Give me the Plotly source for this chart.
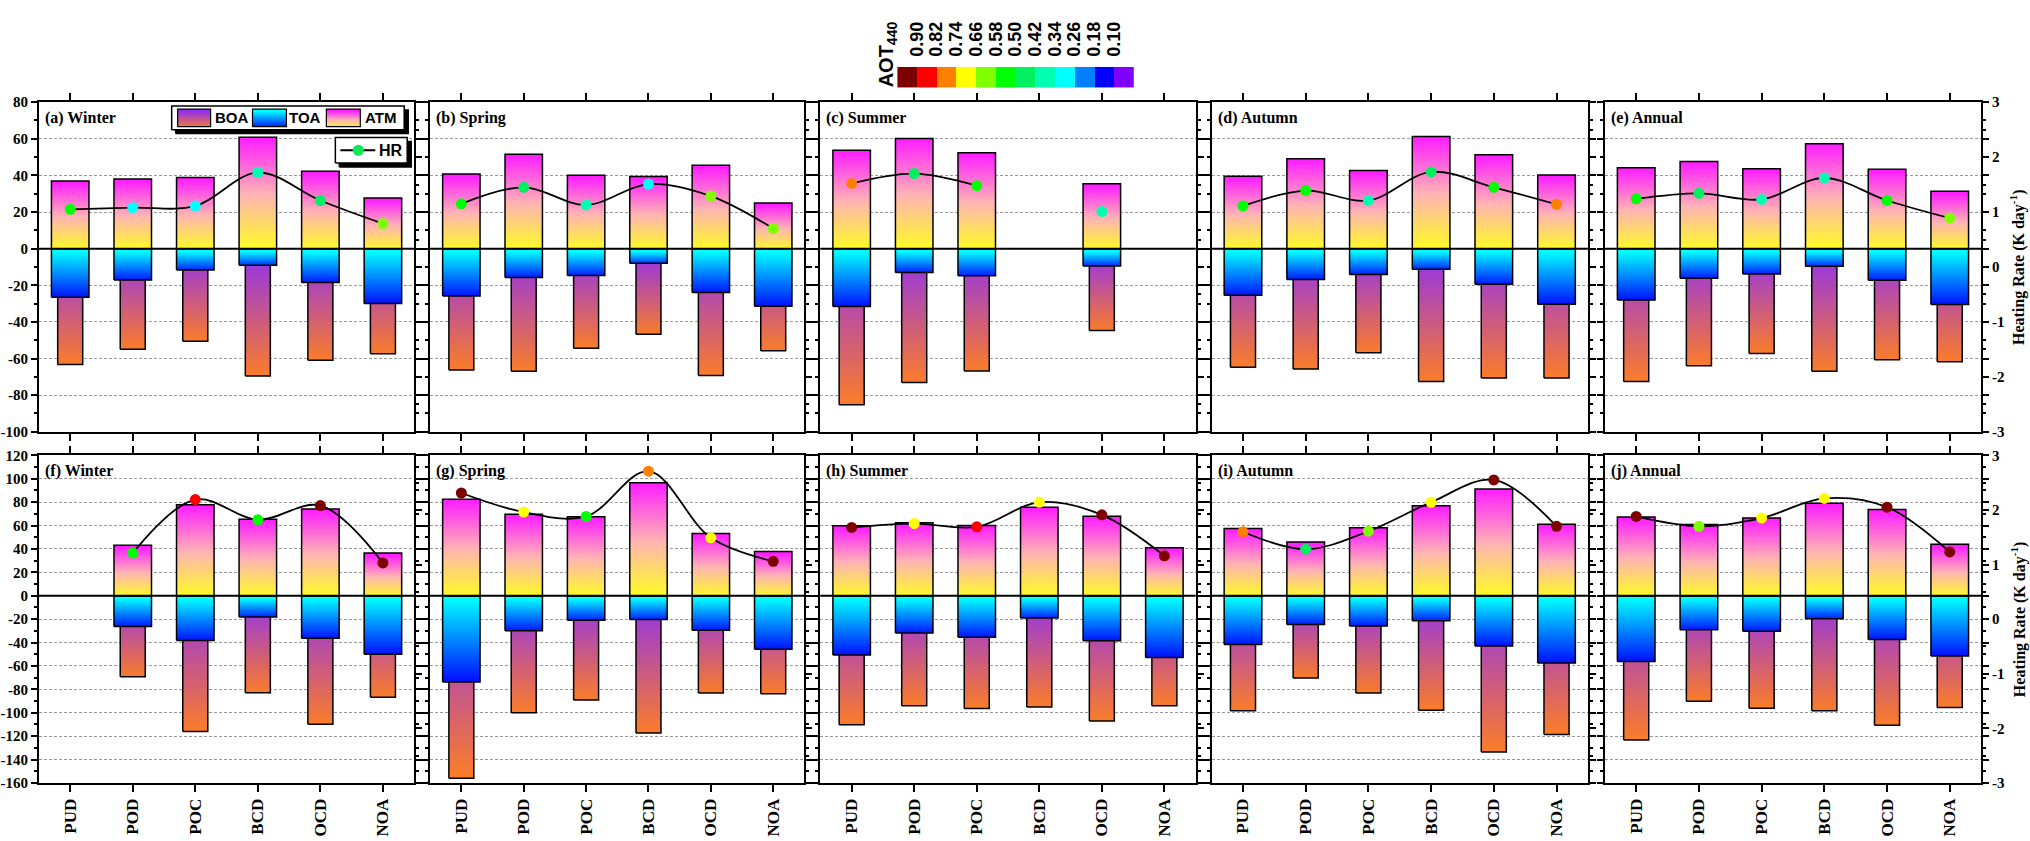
import plotly.graph_objects as go

FIG_W, FIG_H = 2030, 841

CATEGORIES = ["PUD", "POD", "POC", "BCD", "OCD", "NOA"]
PANEL_TITLES = ["(a) Winter", "(b) Spring", "(c) Summer", "(d) Autumn", "(e) Annual",
                "(f) Winter", "(g) Spring", "(h) Summer", "(i) Autumn", "(j) Annual"]

# Radiative forcing (W m-2): atmosphere, top and bottom of atmosphere,
# heating rate (K day-1) and AOT440 for each aerosol type.
ATM_A = [37.0, 38.0, 38.9, 60.8, 42.3, 27.7]
TOA_A = [-26.5, -17.1, -11.7, -9.1, -18.5, -29.9]
BOA_A = [-63.3, -54.9, -50.5, -69.5, -61.0, -57.4]
HR_A = [1.05, 1.08, 1.11, 1.72, 1.21, 0.79]
AOT_A = [0.54, 0.30, 0.30, 0.38, 0.46, 0.62]

ATM_B = [40.8, 51.5, 40.1, 39.4, 45.5, 25.0]
TOA_B = [-25.8, -15.7, -14.6, -8.0, -23.9, -31.4]
BOA_B = [-66.3, -67.0, -54.4, -46.7, -69.2, -55.8]
HR_B = [1.15, 1.45, 1.13, 1.51, 1.29, 0.70]
AOT_B = [0.54, 0.46, 0.38, 0.30, 0.62, 0.62]

ATM_C = [53.8, 60.2, 52.4, None, 35.5, None]
TOA_C = [-31.6, -13.0, -14.8, None, -9.4, None]
BOA_C = [-85.2, -73.1, -66.8, None, -44.7, None]
HR_C = [1.52, 1.70, 1.48, None, 1.01, None]
AOT_C = [0.78, 0.46, 0.54, None, 0.38, None]

ATM_D = [39.6, 49.1, 42.7, 61.3, 51.3, 40.2]
TOA_D = [-25.4, -16.8, -14.1, -11.3, -19.5, -30.4]
BOA_D = [-64.8, -65.7, -56.8, -72.5, -70.7, -70.7]
HR_D = [1.11, 1.39, 1.21, 1.73, 1.45, 1.14]
AOT_D = [0.54, 0.54, 0.38, 0.46, 0.54, 0.78]

ATM_E = [44.2, 47.6, 43.6, 57.3, 43.3, 31.3]
TOA_E = [-28.1, -16.2, -13.9, -9.6, -17.3, -30.5]
BOA_E = [-72.5, -63.9, -57.3, -67.0, -60.7, -61.8]
HR_E = [1.24, 1.34, 1.23, 1.62, 1.21, 0.89]
AOT_E = [0.54, 0.46, 0.38, 0.38, 0.54, 0.62]

ATM_F = [None, 43.2, 77.8, 65.3, 74.2, 36.5]
TOA_F = [None, -26.2, -38.2, -18.1, -36.3, -49.9]
BOA_F = [None, -69.2, -116.0, -82.8, -109.9, -86.7]
HR_F = [None, 1.21, 2.19, 1.82, 2.08, 1.03]
AOT_F = [None, 0.52, 0.86, 0.54, 0.94, 0.94]

ATM_G = [82.4, 69.7, 67.5, 96.6, 53.2, 37.8]
TOA_G = [-73.7, -30.0, -21.0, -20.4, -29.4, -45.7]
BOA_G = [-156.0, -100.0, -89.1, -117.4, -83.2, -83.8]
HR_G = [2.31, 1.96, 1.88, 2.71, 1.49, 1.06]
AOT_G = [0.94, 0.70, 0.54, 0.78, 0.70, 0.94]

ATM_H = [59.8, 62.3, 60.1, 75.7, 67.9, 41.1]
TOA_H = [-50.6, -31.8, -35.5, -19.0, -38.5, -52.8]
BOA_H = [-110.3, -94.1, -96.4, -95.0, -107.0, -94.1]
HR_H = [1.68, 1.75, 1.69, 2.14, 1.91, 1.16]
AOT_H = [0.94, 0.70, 0.86, 0.70, 0.94, 0.94]

ATM_I = [57.4, 45.9, 58.0, 76.8, 91.3, 61.1]
TOA_I = [-41.7, -24.6, -25.8, -21.3, -42.9, -57.4]
BOA_I = [-98.3, -70.3, -83.2, -97.8, -133.6, -118.5]
HR_I = [1.60, 1.28, 1.61, 2.14, 2.55, 1.70]
AOT_I = [0.78, 0.46, 0.62, 0.70, 0.94, 0.94]

ATM_J = [67.2, 60.8, 66.4, 79.0, 73.7, 44.0]
TOA_J = [-56.3, -29.1, -30.3, -19.6, -37.3, -51.5]
BOA_J = [-123.2, -90.2, -96.1, -98.3, -110.6, -95.5]
HR_J = [1.88, 1.70, 1.85, 2.21, 2.05, 1.23]
AOT_J = [0.94, 0.62, 0.70, 0.70, 0.94, 0.94]

PANELS = [
    (ATM_A, TOA_A, BOA_A, HR_A, AOT_A),
    (ATM_B, TOA_B, BOA_B, HR_B, AOT_B),
    (ATM_C, TOA_C, BOA_C, HR_C, AOT_C),
    (ATM_D, TOA_D, BOA_D, HR_D, AOT_D),
    (ATM_E, TOA_E, BOA_E, HR_E, AOT_E),
    (ATM_F, TOA_F, BOA_F, HR_F, AOT_F),
    (ATM_G, TOA_G, BOA_G, HR_G, AOT_G),
    (ATM_H, TOA_H, BOA_H, HR_H, AOT_H),
    (ATM_I, TOA_I, BOA_I, HR_I, AOT_I),
    (ATM_J, TOA_J, BOA_J, HR_J, AOT_J),
]

# AOT440 classes (boundaries, high to low) and their colours
AOT_TICKS = [0.90, 0.82, 0.74, 0.66, 0.58, 0.50, 0.42, 0.34, 0.26, 0.18, 0.10]
AOT_STEP = 0.08
AOT_PALETTE = ["#7c0000", "#ff0000", "#ff8000", "#ffff00", "#80ff00", "#00ff00",
               "#00f060", "#00ffb0", "#00ffff", "#0080ff", "#0000ff", "#8000ff"]

aot_max = AOT_TICKS[0] + AOT_STEP
aot_min = AOT_TICKS[-1] - AOT_STEP
low_to_high = AOT_PALETTE[::-1]
n_cls = len(low_to_high)
AOT_SCALE = []
for i, col in enumerate(low_to_high):
    AOT_SCALE += [[i / n_cls, col], [(i + 1) / n_cls, col]]

# vertical gradients, bottom -> top
ATM_GRAD = [[0, "#ffff1e"], [0.5, "#ffb4b4"], [1, "#ff1eff"]]
TOA_GRAD = [[0, "#0000ff"], [1, "#00ffff"]]
BOA_GRAD = [[0, "#ff8020"], [1, "#9030f0"]]

# panel geometry (pixels)
COLS = [(35, 411), (427, 802), (818, 1194), (1210, 1587), (1604, 1981)]
ROWS = [(96, 432), (456, 790)]
LEFT_RANGE = [(-100, 80), (-160, 120)]
HR_RANGE = (-3, 3)
WIDE, NARROW = 0.6, 0.4

SERIF = "Liberation Serif"
SANS = "Liberation Sans"


def ax_id(letter, k):
    return letter if k == 1 else f"{letter}{k}"


def ax_key(letter, k):
    return f"{letter}axis" if k == 1 else f"{letter}axis{k}"


def bar(i, value, width, grad, xa, ya):
    lo, hi = min(0, value), max(0, value)
    left, right = i - width / 2, i + width / 2
    return go.Scatter(
        x=[left, right, right, left, left], y=[lo, lo, hi, hi, lo],
        mode="lines", fill="toself",
        fillgradient=dict(type="vertical", colorscale=grad, start=lo, stop=hi),
        line=dict(color="black", width=1.5),
        xaxis=xa, yaxis=ya, hoverinfo="skip", showlegend=False)


def fmt(v):
    return str(int(v)) if float(v).is_integer() else str(v)


fig = go.Figure()
layout = {}
shapes = []
annotations = []

for k, (atm, toa, boa, hr, aot) in enumerate(PANELS, start=1):
    r, c = divmod(k - 1, 5)
    px0, px1 = COLS[c]
    py0, py1 = ROWS[r]
    xa, ya, ha = ax_id("x", k), ax_id("y", k), ax_id("y", k + 10)
    lo, hi = LEFT_RANGE[r]
    left_ticks = list(range(lo, hi + 1, 20))
    hr_ticks = list(range(HR_RANGE[0], HR_RANGE[1] + 1))

    xaxis = dict(
        domain=[px0 / FIG_W, px1 / FIG_W], anchor=ya, range=[-0.5, 5.5],
        tickmode="array", tickvals=list(range(len(CATEGORIES))),
        ticks="outside", ticklen=7, tickwidth=2, tickcolor="black",
        showline=True, linewidth=2, linecolor="black", mirror="ticks",
        showgrid=False, zeroline=False)
    if r == 1:
        xaxis.update(ticktext=CATEGORIES, tickangle=-90,
                     tickfont=dict(family=SERIF, size=17, color="black", weight="bold"))
    else:
        xaxis.update(showticklabels=False)
    layout[ax_key("x", k)] = xaxis

    yaxis = dict(
        domain=[1 - py1 / FIG_H, 1 - py0 / FIG_H], anchor=xa, range=[lo, hi],
        tickmode="array", tickvals=left_ticks,
        ticks="outside", ticklen=6, tickwidth=2, tickcolor="black",
        minor=dict(tickmode="linear", tick0=0, dtick=10, ticks="outside",
                   ticklen=3, tickwidth=1.5, tickcolor="black", showgrid=False),
        showgrid=True, gridcolor="#9a9a9a", gridwidth=1, griddash="3px,2px",
        showline=True, linewidth=2, linecolor="black", mirror="ticks",
        zeroline=False)
    if c == 0:
        yaxis.update(ticktext=[fmt(v) for v in left_ticks],
                     tickfont=dict(family=SERIF, size=15, color="black", weight="bold"))
    else:
        yaxis.update(showticklabels=False)
    layout[ax_key("y", k)] = yaxis

    hraxis = dict(
        overlaying=ya, anchor=xa, side="right", range=list(HR_RANGE),
        tickmode="array", tickvals=hr_ticks,
        ticks="outside", ticklen=6, tickwidth=2, tickcolor="black",
        minor=dict(tickmode="linear", tick0=0, dtick=0.5, ticks="outside",
                   ticklen=3, tickwidth=1.5, tickcolor="black", showgrid=False),
        showgrid=False, zeroline=False,
        showline=True, linewidth=2, linecolor="black")
    if c == 4:
        hraxis.update(ticktext=[fmt(v) for v in hr_ticks],
                      tickfont=dict(family=SERIF, size=15, color="black", weight="bold"))
    else:
        hraxis.update(showticklabels=False)
    layout[ax_key("y", k + 10)] = hraxis

    # bars: BOA behind, then TOA and ATM
    for i in range(len(CATEGORIES)):
        if boa[i] is not None:
            fig.add_trace(bar(i, boa[i], NARROW, BOA_GRAD, xa, ya))
    for i in range(len(CATEGORIES)):
        if toa[i] is not None:
            fig.add_trace(bar(i, toa[i], WIDE, TOA_GRAD, xa, ya))
        if atm[i] is not None:
            fig.add_trace(bar(i, atm[i], WIDE, ATM_GRAD, xa, ya))

    # heating rate curve and AOT-coloured points
    fig.add_trace(go.Scatter(
        x=list(range(len(CATEGORIES))), y=hr, mode="lines", connectgaps=False,
        line=dict(color="black", width=1.8, shape="spline", smoothing=1.0),
        xaxis=xa, yaxis=ha, hoverinfo="skip", showlegend=False))
    idx = [i for i in range(len(CATEGORIES)) if hr[i] is not None]
    fig.add_trace(go.Scatter(
        x=idx, y=[hr[i] for i in idx], mode="markers",
        marker=dict(size=11, color=[aot[i] for i in idx], colorscale=AOT_SCALE,
                    cmin=aot_min, cmax=aot_max, line=dict(width=0)),
        xaxis=xa, yaxis=ha, hoverinfo="skip", showlegend=False))

    shapes.append(dict(type="line", xref=f"{xa} domain", yref=ya, x0=0, x1=1, y0=0, y1=0,
                       line=dict(color="black", width=2), layer="above"))
    annotations.append(dict(
        text=PANEL_TITLES[k - 1], xref=f"{xa} domain", yref=f"{ya} domain",
        x=4 / (px1 - px0), y=1 - 16 / (py1 - py0), xanchor="left", yanchor="middle",
        showarrow=False, font=dict(family=SERIF, size=16, color="black", weight="bold")))

# AOT440 colour key
centers = [t + AOT_STEP / 2 for t in AOT_TICKS] + [AOT_TICKS[-1] - AOT_STEP / 2]
fig.add_trace(go.Heatmap(
    z=[centers], x=centers, y=[0], colorscale=AOT_SCALE, zmin=aot_min, zmax=aot_max,
    showscale=False, xaxis="x11", yaxis="y21", hoverinfo="skip"))
layout["xaxis11"] = dict(
    domain=[895 / FIG_W, 1132 / FIG_W], anchor="y21", range=[aot_max, aot_min],
    side="top", tickmode="array", tickvals=AOT_TICKS,
    ticktext=[f"{t:.2f}" for t in AOT_TICKS], tickangle=-90, ticks="",
    ticklabelstandoff=9,
    showline=False, showgrid=False, zeroline=False,
    tickfont=dict(family=SANS, size=18, color="black", weight="bold"))
layout["yaxis21"] = dict(domain=[1 - 81 / FIG_H, 1 - 60 / FIG_H], anchor="x11",
                         range=[-0.5, 0.5], visible=False)
annotations.append(dict(
    text="AOT<sub>440</sub>", xref="paper", yref="paper", x=885 / FIG_W, y=1 - 47 / FIG_H,
    xanchor="center", yanchor="middle", textangle=-90, showarrow=False,
    font=dict(family=SANS, size=20, color="black", weight="bold")))

# legend drawn in a full-figure pixel frame
layout["xaxis12"] = dict(domain=[0, 1], range=[0, FIG_W], anchor="y22", visible=False,
                         fixedrange=True)
layout["yaxis22"] = dict(domain=[0, 1], range=[0, FIG_H], anchor="x12", visible=False,
                         fixedrange=True)


def box(xl, xr, yt, yb, fill=None, grad=None, lw=1.5):
    yt, yb = FIG_H - yt, FIG_H - yb
    kw = dict(x=[xl, xr, xr, xl, xl], y=[yb, yb, yt, yt, yb], mode="lines", fill="toself",
              line=dict(color="black", width=lw), xaxis="x12", yaxis="y22",
              hoverinfo="skip", showlegend=False)
    if grad is not None:
        kw["fillgradient"] = dict(type="vertical", colorscale=grad, start=yb, stop=yt)
    else:
        kw["fillcolor"] = fill
    return go.Scatter(**kw)


fig.add_trace(box(172, 405, 104, 128, fill="black"))
fig.add_trace(box(168, 401, 100, 124, fill="white"))
for (xl, xr), grad, label, tx in [((174, 207), BOA_GRAD, "BOA", 228),
                                  ((249, 283), TOA_GRAD, "TOA", 302),
                                  ((323, 357), ATM_GRAD, "ATM", 377)]:
    fig.add_trace(box(xl, xr, 103, 121, grad=grad, lw=1.2))
    annotations.append(dict(
        text=label, xref="paper", yref="paper", x=tx / FIG_W, y=1 - 112 / FIG_H,
        xanchor="center", yanchor="middle", showarrow=False,
        font=dict(family=SANS, size=15, color="black", weight="bold")))

fig.add_trace(box(336, 408, 136, 162, fill="black"))
fig.add_trace(box(332, 404, 132, 158, fill="white"))
fig.add_trace(go.Scatter(x=[337, 372], y=[FIG_H - 145, FIG_H - 145], mode="lines",
                         line=dict(color="black", width=1.8), xaxis="x12", yaxis="y22",
                         hoverinfo="skip", showlegend=False))
fig.add_trace(go.Scatter(x=[355], y=[FIG_H - 145], mode="markers",
                         marker=dict(size=11, color="#10e858"), xaxis="x12", yaxis="y22",
                         hoverinfo="skip", showlegend=False))
annotations.append(dict(
    text="HR", xref="paper", yref="paper", x=388 / FIG_W, y=1 - 145 / FIG_H,
    xanchor="center", yanchor="middle", showarrow=False,
    font=dict(family=SANS, size=16, color="black", weight="bold")))

# right-hand axis titles
for py0, py1 in ROWS:
    annotations.append(dict(
        text="Heating Rate (K day<sup>-1</sup>)", xref="paper", yref="paper",
        x=2018 / FIG_W, y=1 - (py0 + py1) / 2 / FIG_H, xanchor="center", yanchor="middle",
        textangle=-90, showarrow=False,
        font=dict(family=SERIF, size=16, color="black", weight="bold")))

fig.update_layout(
    width=FIG_W, height=FIG_H, autosize=False,
    margin=dict(l=0, r=0, t=0, b=0),
    paper_bgcolor="white", plot_bgcolor="rgba(0,0,0,0)",
    showlegend=False, shapes=shapes, annotations=annotations,
    **layout)

fig.write_html("out.html")
